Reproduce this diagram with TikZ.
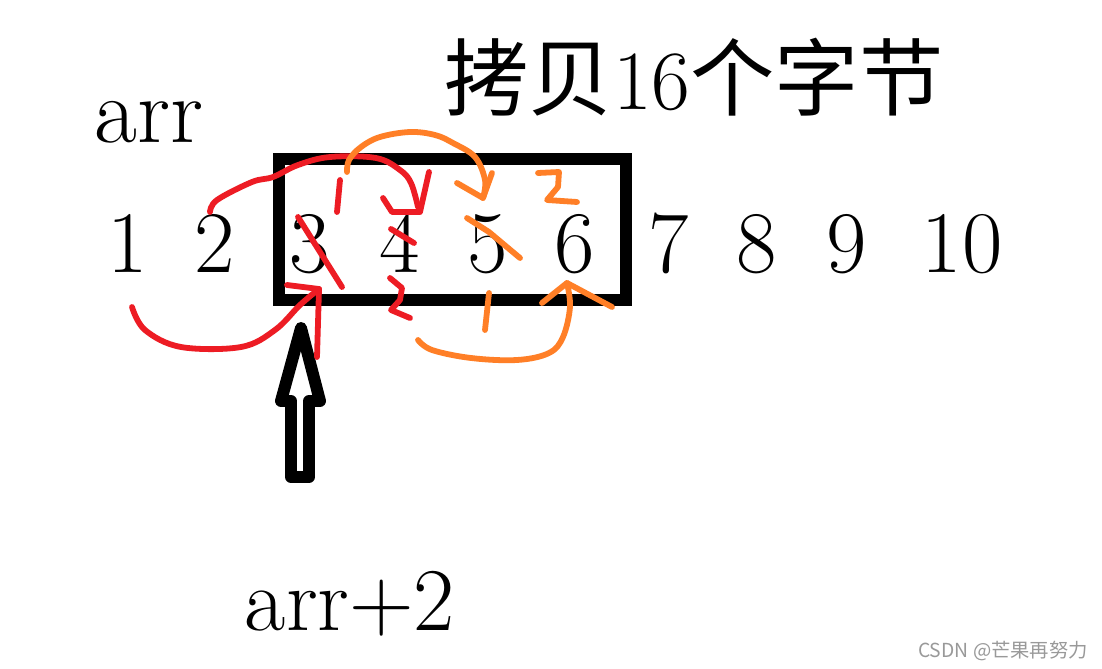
\documentclass[tikz,border=0pt]{standalone}
\usepackage{fontspec}
\newfontfamily\cjk{Noto Sans CJK SC}
\usetikzlibrary{arrows,shapes,positioning}
\definecolor{pen}{RGB}{237,28,36}
\definecolor{marker}{RGB}{255,127,39}

\begin{document}
\begin{tikzpicture}[x=0.02cm, y=0.02cm]
                    \tikzstyle{every node}+=[inner sep=0pt]
                    \tikzstyle{num}=[anchor=base, font=\fontsize{50}{60}\selectfont]
                    \tikzstyle{redline}=[pen, line width=3.3pt, line cap=round, line join=round]
                    \tikzstyle{orangeline}=[marker, line width=3.3pt, line cap=round, line join=round]
                    \fill [white] (0,0) rectangle (1102,-669);
                    \useasboundingbox (0,0) rectangle (1102,-669);
                    \draw (694,-110) node [anchor=base, font=\fontsize{48}{58}\selectfont] (title) {{\cjk 拷贝}16{\cjk 个字节}};
                    \draw (149,-142) node [num, font=\fontsize{53}{63}\selectfont] (arr) {arr};
                    \draw (350,-630) node [num, font=\fontsize{51}{61}\selectfont] (arrtwo) {arr+2};
                    \draw (128,-272) node [num] (n1) {1};
                    \draw (215,-272) node [num] (n2) {2};
                    \draw (310,-272) node [num] (n3) {3};
                    \draw (400,-272) node [num] (n4) {4};
                    \draw (488,-272) node [num] (n5) {5};
                    \draw (575,-272) node [num] (n6) {6};
                    \draw (669,-272) node [num] (n7) {7};
                    \draw (757,-272) node [num] (n8) {8};
                    \draw (847,-272) node [num] (n9) {9};
                    \draw (962,-272) node [num] (n10) {10};
                    \draw [black, line width=6.8pt] (279,-159) rectangle (626,-300);
                    \draw [black, line width=6.8pt, line join=round] (291,-477) -- (291,-401) -- (281,-401) -- (301,-328) -- (320,-401) -- (309,-401) -- (309,-477) -- cycle;
                    \coordinate (ra) at (132,-307);
                    \coordinate (rb) at (319,-289);
                    \draw [redline] plot [smooth, tension=0.6] coordinates {(ra) (145,-330) (181,-347) (241,-347) (275,-330) (300,-305) (rb)};
                    \draw [redline] (287,-285) -- (rb) -- (317,-357);
                    \coordinate (rc) at (210,-212);
                    \coordinate (rd) at (418,-207);
                    \draw [redline] plot [smooth, tension=0.6] coordinates {(rc) (217,-200) (252,-182) (273,-177) (298,-165) (330,-157) (376,-158) (400,-170) (411,-183) (rd)};
                    \draw [redline] (383,-198) -- (392,-212) -- (420,-212) -- (429,-172);
                    \draw [redline] (340,-180) -- (337,-212);
                    \draw [redline] (298,-217) -- (342,-287);
                    \draw [redline] (391,-229) -- (414,-243);
                    \draw [redline] (390,-278) -- (402,-288) -- (400,-300) -- (391,-310) -- (410,-318);
                    \coordinate (oa) at (347,-172);
                    \coordinate (ob) at (483,-198);
                    \draw [orangeline] plot [smooth, tension=0.6] coordinates {(oa) (349,-160) (361,-147) (380,-137) (410,-132) (435,-135) (453,-143) (475,-157) (485,-180) (ob)};
                    \draw [orangeline] (457,-183) -- (ob) -- (492,-173);
                    \draw [orangeline] (538,-173) -- (559,-172) -- (558,-187) -- (547,-200) -- (577,-202);
                    \draw [orangeline] (467,-218) -- (489,-232) -- (520,-258);
                    \draw [orangeline] (489,-293) -- (485,-330);
                    \coordinate (oc) at (418,-340);
                    \coordinate (od) at (567,-283);
                    \draw [orangeline] plot [smooth, tension=0.6] coordinates {(oc) (432,-350) (471,-358) (517,-360) (549,-353) (563,-337) (570,-307) (od)};
                    \draw [orangeline] (542,-303) -- (od) -- (612,-307);
                    \draw (1003,-651) node [black!40, font=\cjk\fontsize{11}{13}\selectfont] (mark) {CSDN @芒果再努力};
                \end{tikzpicture}
\end{document}
